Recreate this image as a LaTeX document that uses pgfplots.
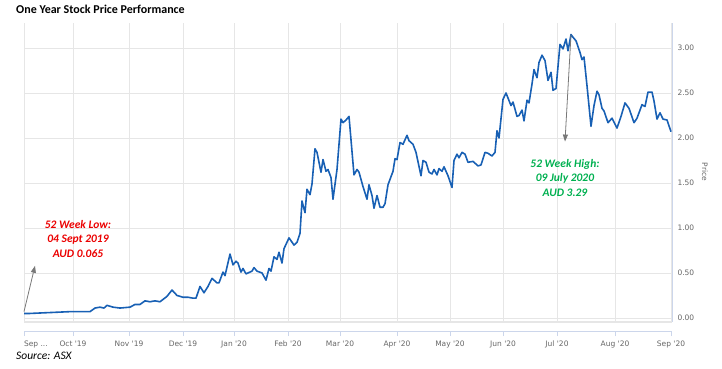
\documentclass[border=0pt]{standalone}
\usepackage{pgfplots}
\pgfplotsset{compat=1.18}
\usepackage{fontspec}
\setmainfont{Carlito}
\newfontfamily\tickfont{DejaVu Sans}
\usetikzlibrary{arrows.meta}
\definecolor{pline}{RGB}{24,96,180}
\definecolor{gridc}{RGB}{230,230,230}
\definecolor{axc}{RGB}{204,214,235}
\definecolor{tickc}{RGB}{102,102,102}
\definecolor{lowred}{RGB}{235,0,0}
\definecolor{highgreen}{RGB}{0,176,80}
\definecolor{arrowc}{RGB}{120,120,120}
\pgfplotstableread{
x y
24 0.05
30 0.05
40 0.055
50 0.06
60 0.065
70 0.07
80 0.07
90 0.07
95 0.11
100 0.12
104 0.11
107 0.14
113 0.12
120 0.11
130 0.12
135 0.15
140 0.15
145 0.19
150 0.18
155 0.19
160 0.18
167 0.24
172 0.31
177 0.25
183 0.23
188 0.23
193 0.22
196 0.22
200 0.35
204 0.28
208 0.35
212 0.44
217 0.39
219 0.39
223 0.51
225 0.47
230 0.71
233 0.59
236 0.63
238 0.61
241 0.51
243 0.55
246 0.49
252 0.52
254 0.56
257 0.52
262 0.50
266 0.42
269 0.55
271 0.52
274 0.68
277 0.65
279 0.73
282 0.61
284 0.77
289 0.89
294 0.81
297 0.84
300 0.94
302 1.30
305 1.17
307 1.43
310 1.37
312 1.49
315 1.88
317 1.84
321 1.62
323 1.76
326 1.63
328 1.65
331 1.56
333 1.32
337 1.65
341 2.21
343 2.17
346 2.20
349 2.24
354 1.59
357 1.65
359 1.62
363 1.46
367 1.32
369 1.48
372 1.36
374 1.22
377 1.36
380 1.23
383 1.23
385 1.27
388 1.48
393 1.63
395 1.77
397 1.76
400 1.95
403 1.93
407 2.03
409 1.97
413 1.93
416 1.84
421 1.58
423 1.75
426 1.73
429 1.62
432 1.60
434 1.65
437 1.59
439 1.66
442 1.63
444 1.68
448 1.58
452 1.45
454 1.75
457 1.82
459 1.78
462 1.84
465 1.82
468 1.73
473 1.74
478 1.69
481 1.70
485 1.84
488 1.83
492 1.80
495 1.84
497 2.08
499 2.00
503 2.43
506 2.50
511 2.36
513 2.40
517 2.24
519 2.25
522 2.31
524 2.19
527 2.42
529 2.39
532 2.60
534 2.76
537 2.67
539 2.84
542 2.92
545 2.86
548 2.64
551 2.73
553 2.53
556 2.55
560 3.04
563 2.99
566 3.10
568 2.97
571 3.15
573 3.12
576 3.08
580 2.95
582 2.87
584 2.90
587 2.58
591 2.13
594 2.36
597 2.52
599 2.48
602 2.33
604 2.30
608 2.17
612 2.22
617 2.11
621 2.24
625 2.39
629 2.33
634 2.17
637 2.22
642 2.37
645 2.35
648 2.51
652 2.51
654 2.41
657 2.21
660 2.28
663 2.21
667 2.20
671 2.07
}\pricedata
\begin{document}
\begin{tikzpicture}[x=1pt,y=1pt]
\useasboundingbox (0,0) rectangle (722,369);
% main plot
\begin{axis}[
  at={(24pt,47pt)}, anchor=south west,
  width=648pt, height=299pt, scale only axis,
  xmin=24, xmax=672,
  ymin=-0.045, ymax=3.278,
  axis x line*=bottom, axis y line*=right,
  x axis line style={draw=gridc, line width=1.2pt},
  y axis line style={draw=axc, line width=0.8pt},
  xtick={24,73,129,183,234,288,340,397,450,503,557,615,671},
  xticklabels={},
  major tick length=0pt,
  ytick={0,0.5,1,1.5,2,2.5,3},
  grid=major,
  major grid style={draw=gridc, line width=0.8pt},
  /pgf/number format/assume math mode=true,
  yticklabel={\pgfmathprintnumber[fixed,fixed zerofill,precision=2]{\tick}},
  yticklabel style={font=\tickfont\fontsize{7.5}{9}\selectfont, text=tickc, anchor=west, xshift=2pt},
  clip=false,
]
\addplot[pline, line width=1.6pt, line join=round] table[x=x,y=y] {\pricedata};
\draw[arrowc, line width=0.8pt, -{Triangle[length=7pt,width=5pt]}] (axis cs:24,0.07) -- (axis cs:35,0.58);
\draw[arrowc, line width=0.8pt, -{Triangle[length=7pt,width=5pt]}] (axis cs:571,3.15) -- (axis cs:565,1.96);
\end{axis}
% navigator-like date axis
\begin{axis}[
  at={(24pt,38pt)}, anchor=south west,
  width=648pt, height=2pt, scale only axis,
  xmin=24, xmax=672, ymin=0, ymax=1,
  axis x line*=bottom, axis y line=none,
  x axis line style={draw=axc, line width=0.8pt},
  xtick={24,73,129,183,234,288,340,397,450,503,557,615,671},
  xticklabels={{\makebox[0pt][l]{Sep ...}},{Oct '19},{Nov '19},{Dec '19},{Jan '20},{Feb '20},{Mar '20},{Apr '20},{May '20},{Jun '20},{Jul '20},{Aug '20},{Sep '20}},
  xtick align=outside,
  major tick length=5pt,
  major tick style={draw=axc, line width=0.8pt},
  xticklabel style={font=\tickfont\fontsize{7.5}{9}\selectfont, text=tickc, yshift=-1pt},
]
\end{axis}
% texts
\node[anchor=west, font=\bfseries\fontsize{12}{14}\selectfont, inner sep=0pt] at (16,360) {One Year Stock Price Performance};
\node[anchor=west, font=\itshape\fontsize{11.5}{14}\selectfont, inner sep=0pt] at (16,13) {Source: ASX};
\node[rotate=-90, font=\tickfont\fontsize{7.5}{9}\selectfont, text=tickc] at (705,197) {Price};
\node[align=center, text=lowred, font=\bfseries\itshape\fontsize{11.5}{14.5}\selectfont] at (78,130) {52 Week Low:\\04 Sept 2019\\AUD 0.065};
\node[align=center, text=highgreen, font=\bfseries\itshape\fontsize{11.5}{14.5}\selectfont] at (565,191) {52 Week High:\\09 July 2020\\AUD 3.29};
\end{tikzpicture}
\end{document}
